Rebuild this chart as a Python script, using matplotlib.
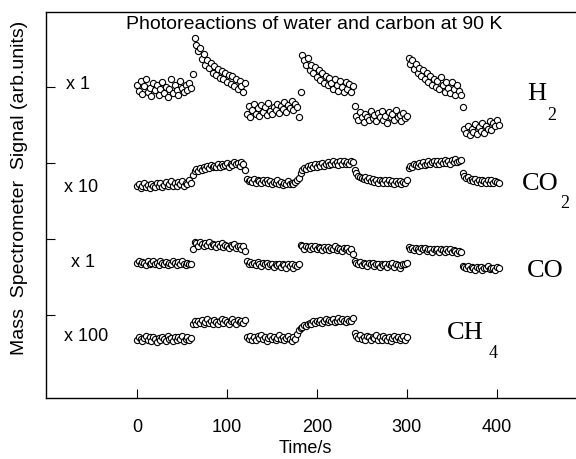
import matplotlib
matplotlib.use("Agg")
import matplotlib.pyplot as plt

plt.rcParams['font.family'] = ['Liberation Sans', 'DejaVu Sans']

# sampling times (s), shared by all four mass channels
time_s = [
    0, 2, 4, 6, 8, 10, 12, 14, 16, 18, 20, 22, 24, 26, 28, 30, 32, 34, 36, 38,
    40, 42, 44, 46, 48, 50, 52, 54, 56, 58, 60, 62, 64, 66, 68, 70, 72, 74, 76, 78,
    80, 82, 84, 86, 88, 90, 92, 94, 96, 98, 100, 102, 104, 106, 108, 110, 112, 114, 116, 118,
    120, 122, 124, 126, 128, 130, 132, 134, 136, 138, 140, 142, 144, 146, 148, 150, 152, 154, 156, 158,
    160, 162, 164, 166, 168, 170, 172, 174, 176, 178, 180, 182, 184, 186, 188, 190, 192, 194, 196, 198,
    200, 202, 204, 206, 208, 210, 212, 214, 216, 218, 220, 222, 224, 226, 228, 230, 232, 234, 236, 238,
    240, 242, 244, 246, 248, 250, 252, 254, 256, 258, 260, 262, 264, 266, 268, 270, 272, 274, 276, 278,
    280, 282, 284, 286, 288, 290, 292, 294, 296, 298, 300, 302, 304, 306, 308, 310, 312, 314, 316, 318,
    320, 322, 324, 326, 328, 330, 332, 334, 336, 338, 340, 342, 344, 346, 348, 350, 352, 354, 356, 358,
    360, 362, 364, 366, 368, 370, 372, 374, 376, 378, 380, 382, 384, 386, 388, 390, 392, 394, 396, 398,
    400, 402,
]

# signals, already offset/scaled into the stacked arb. units
h2 = [
    4.03, 3.95, 4.08, 3.91, 4.01, 4.10, 3.93, 3.99, 3.88, 4.05, 3.96, 4.02, 3.90, 3.98, 4.07, 3.92,
    4.00, 3.87, 3.97, 4.11, 3.92, 4.03, 3.96, 3.89, 4.08, 3.99, 3.93, 4.02, 3.96, 4.05, 3.99,
    4.17, 4.64, 4.55, 4.47, 4.51, 4.37, 4.43, 4.29, 4.36, 4.25, 4.32, 4.19, 4.28, 4.16, 4.24,
    4.12, 4.21, 4.10, 4.19, 4.06, 4.16, 4.04, 4.14, 4.01, 4.11, 3.97, 4.08, 4.01, 3.94, 4.05,
    3.65, 3.75, 3.61, 3.70, 3.78, 3.64, 3.72, 3.62, 3.76, 3.67, 3.73, 3.63, 3.79, 3.69, 3.65,
    3.74, 3.70, 3.77, 3.66, 3.75, 3.71, 3.80, 3.67, 3.76, 3.72, 3.81, 3.70, 3.78, 3.73, 3.61,
    3.93, 4.42, 4.35, 4.29, 4.38, 4.23, 4.29, 4.18, 4.26, 4.13, 4.22, 4.09, 4.18, 4.05, 4.14,
    4.02, 4.12, 4.05, 3.98, 4.10, 4.02, 3.95, 4.08, 4.00, 3.93, 4.06, 3.98, 4.04, 3.94, 4.01,
    3.75, 3.62, 3.57, 3.67, 3.60, 3.54, 3.65, 3.61, 3.56, 3.68, 3.59, 3.63, 3.55, 3.66, 3.60,
    3.69, 3.57, 3.62, 3.53, 3.67, 3.61, 3.64, 3.56, 3.70, 3.60, 3.63, 3.55, 3.66, 3.59, 3.62,
    4.38, 4.30, 4.35, 4.24, 4.30, 4.19, 4.25, 4.14, 4.22, 4.10, 4.18, 4.07, 4.15, 4.03, 4.11,
    4.00, 4.08, 3.97, 4.13, 4.03, 3.94, 4.06, 3.99, 3.92, 4.07, 3.97, 3.90, 4.03, 3.95, 3.89,
    3.74, 3.44, 3.39, 3.49, 3.37, 3.45, 3.41, 3.51, 3.38, 3.47, 3.42, 3.53, 3.40, 3.49, 3.45,
    3.55, 3.43, 3.52, 3.48, 3.56, 3.50,
]

co2 = [
    2.69, 2.72, 2.67, 2.70, 2.73, 2.68, 2.71, 2.67, 2.72, 2.70, 2.68, 2.73, 2.70, 2.73, 2.68, 2.71,
    2.75, 2.70, 2.72, 2.76, 2.70, 2.73, 2.69, 2.75, 2.72, 2.76, 2.70, 2.74, 2.72, 2.77, 2.74,
    2.84, 2.89, 2.92, 2.89, 2.93, 2.91, 2.95, 2.92, 2.96, 2.93, 2.97, 2.94, 2.96, 2.94, 2.98,
    2.95, 2.99, 2.96, 2.97, 3.00, 2.95, 2.99, 2.97, 3.01, 2.98, 3.00, 2.96, 3.01, 2.98, 2.90,
    2.79, 2.76, 2.78, 2.75, 2.79, 2.74, 2.77, 2.76, 2.73, 2.77, 2.75, 2.77, 2.73, 2.76, 2.72,
    2.75, 2.73, 2.77, 2.72, 2.75, 2.71, 2.74, 2.72, 2.76, 2.72, 2.74, 2.72, 2.75, 2.77, 2.80,
    2.86, 2.90, 2.93, 2.92, 2.96, 2.93, 2.97, 2.94, 2.98, 2.95, 2.99, 2.96, 3.00, 2.96, 2.98,
    3.01, 2.97, 2.99, 3.02, 2.98, 3.01, 2.97, 3.02, 2.99, 3.03, 2.99, 3.01, 2.98, 3.03, 3.01,
    2.90, 2.86, 2.83, 2.82, 2.80, 2.79, 2.81, 2.77, 2.80, 2.76, 2.79, 2.75, 2.78, 2.74, 2.77,
    2.76, 2.73, 2.77, 2.74, 2.77, 2.73, 2.76, 2.72, 2.76, 2.73, 2.76, 2.72, 2.75, 2.74, 2.77,
    2.93, 2.96, 2.94, 2.98, 2.97, 2.96, 3.00, 2.97, 3.01, 2.97, 2.99, 3.02, 2.98, 3.01, 3.03,
    2.99, 3.02, 2.99, 3.03, 3.00, 3.04, 3.00, 3.02, 2.99, 3.04, 3.01, 3.05, 3.01, 3.03, 3.04,
    2.87, 2.83, 2.80, 2.81, 2.77, 2.79, 2.76, 2.79, 2.75, 2.78, 2.74, 2.77, 2.76, 2.73, 2.77,
    2.74, 2.78, 2.73, 2.76, 2.75, 2.74,
]

co = [
    1.68, 1.70, 1.66, 1.69, 1.68, 1.65, 1.70, 1.67, 1.68, 1.71, 1.66, 1.68, 1.65, 1.70, 1.68, 1.66,
    1.69, 1.65, 1.68, 1.67, 1.70, 1.68, 1.65, 1.69, 1.67, 1.70, 1.67, 1.65, 1.68, 1.67, 1.66,
    1.87, 1.96, 1.94, 1.91, 1.95, 1.93, 1.90, 1.94, 1.92, 1.95, 1.90, 1.93, 1.92, 1.89, 1.93,
    1.91, 1.94, 1.89, 1.92, 1.91, 1.88, 1.92, 1.90, 1.93, 1.88, 1.91, 1.90, 1.87, 1.90, 1.84,
    1.70, 1.67, 1.69, 1.66, 1.68, 1.65, 1.69, 1.67, 1.64, 1.68, 1.66, 1.68, 1.64, 1.67, 1.66,
    1.63, 1.67, 1.65, 1.67, 1.63, 1.66, 1.65, 1.62, 1.66, 1.64, 1.66, 1.62, 1.65, 1.64, 1.66,
    1.92, 1.90, 1.87, 1.91, 1.89, 1.86, 1.90, 1.88, 1.90, 1.86, 1.89, 1.88, 1.85, 1.89, 1.87,
    1.89, 1.85, 1.88, 1.87, 1.90, 1.85, 1.88, 1.87, 1.84, 1.88, 1.86, 1.88, 1.84, 1.86, 1.80,
    1.70, 1.68, 1.66, 1.69, 1.65, 1.68, 1.67, 1.64, 1.68, 1.66, 1.68, 1.64, 1.67, 1.66, 1.63,
    1.67, 1.65, 1.67, 1.63, 1.66, 1.65, 1.68, 1.63, 1.66, 1.65, 1.62, 1.65, 1.67, 1.66, 1.68,
    1.89, 1.86, 1.88, 1.85, 1.88, 1.87, 1.84, 1.88, 1.86, 1.88, 1.84, 1.87, 1.86, 1.83, 1.87,
    1.85, 1.87, 1.83, 1.86, 1.85, 1.82, 1.86, 1.84, 1.86, 1.82, 1.85, 1.84, 1.81, 1.84, 1.83,
    1.64, 1.63, 1.61, 1.64, 1.60, 1.63, 1.62, 1.59, 1.63, 1.61, 1.63, 1.59, 1.62, 1.61, 1.64,
    1.60, 1.62, 1.61, 1.59, 1.63, 1.61,
]

# CH4 was only followed up to 300 s
ch4 = [
    0.67, 0.71, 0.68, 0.65, 0.69, 0.72, 0.67, 0.70, 0.65, 0.70, 0.68, 0.64, 0.69, 0.67, 0.71, 0.68,
    0.65, 0.72, 0.68, 0.69, 0.65, 0.71, 0.67, 0.70, 0.68, 0.72, 0.65, 0.68, 0.71, 0.67, 0.69,
    0.87, 0.91, 0.88, 0.92, 0.89, 0.93, 0.87, 0.90, 0.94, 0.89, 0.92, 0.87, 0.93, 0.90, 0.88,
    0.92, 0.94, 0.89, 0.93, 0.90, 0.87, 0.91, 0.94, 0.90, 0.88, 0.93, 0.90, 0.92, 0.89, 0.93,
    0.71, 0.68, 0.72, 0.67, 0.70, 0.66, 0.72, 0.69, 0.73, 0.68, 0.70, 0.65, 0.69, 0.72, 0.68,
    0.70, 0.66, 0.69, 0.73, 0.68, 0.70, 0.66, 0.69, 0.72, 0.68, 0.65, 0.70, 0.68, 0.74, 0.79,
    0.82, 0.84, 0.86, 0.85, 0.88, 0.89, 0.87, 0.91, 0.89, 0.92, 0.90, 0.93, 0.89, 0.91, 0.94,
    0.90, 0.93, 0.91, 0.94, 0.90, 0.92, 0.95, 0.91, 0.94, 0.92, 0.90, 0.94, 0.91, 0.92, 0.95,
    0.76, 0.72, 0.69, 0.73, 0.68, 0.71, 0.67, 0.72, 0.70, 0.66, 0.71, 0.69, 0.73, 0.67, 0.70,
    0.66, 0.72, 0.69, 0.67, 0.70, 0.65, 0.69, 0.72, 0.68, 0.70, 0.66, 0.69, 0.72, 0.67, 0.70,
]

scale_labels = ["x 1", "x 10", "x 1", "x 100"]
xticks = [0, 100, 200, 300, 400]

fig = plt.figure(figsize=(5.76, 4.59), dpi=100)
ax = fig.add_axes([0.080, 0.133, 0.920, 0.841])

for sig in (h2, co2, co, ch4):
    ax.scatter(time_s[:len(sig)], sig, s=20, facecolors="white",
               edgecolors="black", linewidths=0.8, zorder=3)

ax.set_xlim(-101, 488)
ax.set_ylim(-0.10, 4.99)
ax.set_xticks(xticks)
ax.set_xticklabels([str(v) for v in xticks])
ax.set_yticks([1, 2, 3, 4])
ax.set_yticklabels([])
ax.tick_params(direction="in", length=6.5, width=0.8, labelsize=13, pad=15)
ax.spines["right"].set_visible(False)
for sp in ("left", "bottom", "top"):
    ax.spines[sp].set_linewidth(1.0)

# gain factors next to each trace
ax.text(-79, 4.03, scale_labels[0], fontsize=13, va="center")
ax.text(-81, 2.68, scale_labels[1], fontsize=13, va="center")
ax.text(-73, 1.68, scale_labels[2], fontsize=13, va="center")
ax.text(-81, 0.71, scale_labels[3], fontsize=13, va="center")

# species names
serif = "Liberation Serif"
ax.text(434, 3.91, "H", family=serif, fontsize=19, va="center")
ax.text(456, 3.63, "2", family=serif, fontsize=13, va="center")
ax.text(428, 2.72, "CO", family=serif, fontsize=19, va="center")
ax.text(471, 2.46, "2", family=serif, fontsize=13, va="center")
ax.text(433, 1.58, "CO", family=serif, fontsize=19, va="center")
ax.text(344, 0.76, "CH", family=serif, fontsize=19, va="center")
ax.text(391, 0.49, "4", family=serif, fontsize=13, va="center")

ax.text(197, 4.83, "Photoreactions of water and carbon at 90 K",
        fontsize=14, ha="center", va="center")

fig.text(0.034, 0.59, "Mass  Spectrometer  Signal (arb.units)",
         rotation=90, fontsize=14, ha="center", va="center")
fig.text(0.53, 0.022, "Time/s", fontsize=13, ha="center", va="center")

fig.savefig("out.png", dpi=100)
